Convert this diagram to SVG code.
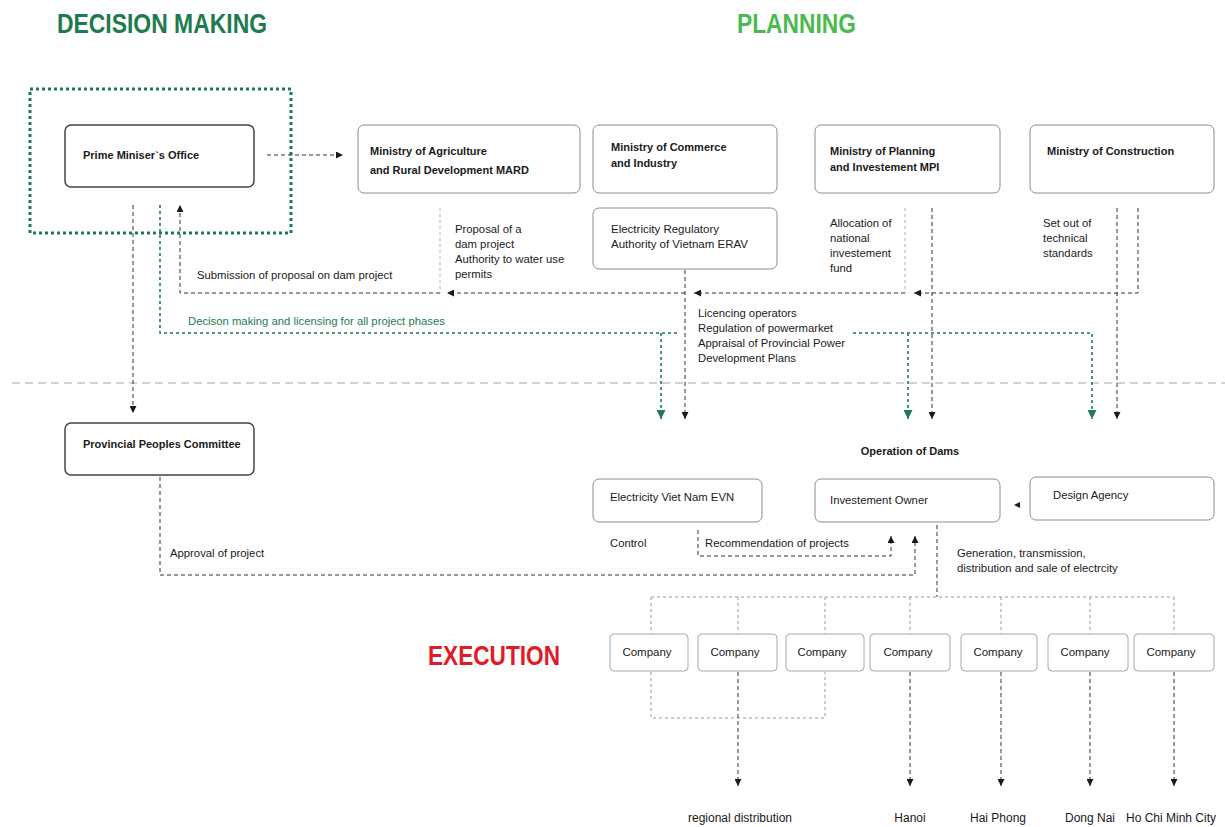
<svg xmlns="http://www.w3.org/2000/svg" width="1225" height="827" viewBox="0 0 1225 827">
  <style>
    text { font-family: "Liberation Sans", Arial, sans-serif; fill: #1a1a1a; }
    .title { font-size: 27px; font-weight: bold; }
    .node { font-size: 11px; font-weight: bold; }
    .lbl { font-size: 11.3px; }
    .co { font-size: 11.5px; text-anchor: middle; }
    .dest { font-size: 12px; text-anchor: middle; }
    .box { fill: #fff; stroke: #8c8c8c; stroke-width: 1; }
    .box.strong { stroke: #444; stroke-width: 1.5; }
    .box.light { stroke: #a8a8a8; }
    .c { fill: none; stroke: #333; stroke-width: 1; stroke-dasharray: 4 3; }
    .c.faint { stroke: #b0b0b0; stroke-dasharray: 3 3; }
    .g { fill: none; stroke: #1e7a55; stroke-width: 1.6; stroke-dasharray: 3 3; }
    .sep { fill: none; stroke: #c4c4c4; stroke-width: 1.6; stroke-dasharray: 8 5; }
  </style>
  <defs>
    <marker id="ah" viewBox="0 0 8 8" refX="8" refY="4" markerWidth="7" markerHeight="7" markerUnits="userSpaceOnUse" orient="auto">
      <path d="M0,0 L8,4 L0,8 z" fill="#1a1a1a"/>
    </marker>
    <marker id="ahg" viewBox="0 0 8 8" refX="8" refY="4" markerWidth="9" markerHeight="9" markerUnits="userSpaceOnUse" orient="auto">
      <path d="M0,0 L8,4 L0,8 z" fill="#1e7a55"/>
    </marker>
  </defs>

  <rect width="1225" height="827" fill="#fff"/>

  <!-- section headings -->
  <text class="title" x="57" y="33" style="fill:#1e7a4f" textLength="210" lengthAdjust="spacingAndGlyphs">DECISION MAKING</text>
  <text class="title" x="737" y="33" style="fill:#4cb94f" textLength="119" lengthAdjust="spacingAndGlyphs">PLANNING</text>
  <text class="title" x="428" y="665" style="fill:#e01b24" textLength="132" lengthAdjust="spacingAndGlyphs">EXECUTION</text>

  <!-- level separator -->
  <path class="sep" d="M12,383 H1225"/>

  <!-- decision-making frame -->
  <rect x="30" y="89" width="261" height="144" fill="none" stroke="#1e7a55" stroke-width="3" stroke-dasharray="3 3"/>

  <!-- connectors -->
  <g id="connectors">
    <path class="c" d="M267,155 H343" marker-end="url(#ah)"/>
    <!-- proposals flowing back to the Prime Minister -->
    <path class="c" d="M1138,208 V293 H914" marker-end="url(#ah)"/>
    <path class="c faint" d="M905,208 V293"/>
    <path class="c" d="M905,293 H694" marker-end="url(#ah)"/>
    <path class="c" d="M685,293 H447" marker-end="url(#ah)"/>
    <path class="c faint" d="M440,208 V293"/>
    <path class="c" d="M440,293 H180 V205" marker-end="url(#ah)"/>
    <!-- ministries down to operation -->
    <path class="c" d="M685,270 V419" marker-end="url(#ah)"/>
    <path class="c" d="M932,208 V419" marker-end="url(#ah)"/>
    <path class="c" d="M1117,208 V419" marker-end="url(#ah)"/>
    <!-- PMO to province -->
    <path class="c" d="M133,205 V413" marker-end="url(#ah)"/>
    <!-- decision making and licensing -->
    <path class="g" d="M160,205 V333 H677"/>
    <path class="g" d="M661,333 V419" marker-end="url(#ahg)"/>
    <path class="g" d="M853,333 H1092 V419" marker-end="url(#ahg)"/>
    <path class="g" d="M908,333 V419" marker-end="url(#ahg)"/>
    <!-- approval and recommendation -->
    <path class="c" d="M160,477 V575 H915 V536" marker-end="url(#ah)"/>
    <path class="c" d="M698,530 V556 H891 V536" marker-end="url(#ah)"/>
    <path d="M1020,502 L1014,505 L1020,508 z" fill="#1a1a1a"/>
    <!-- generation and distribution -->
    <path class="c" d="M937,525 V597"/>
    <path class="c faint" style="stroke:#999" d="M651,597 H1174 M651,597 V634 M738,597 V634 M825,597 V634 M910,597 V634 M1001,597 V634 M1090,597 V634 M1174,597 V634"/>
    <path class="c faint" style="stroke:#999" d="M651,672 V718 H825 V672"/>
    <path class="c" d="M738,672 V786" marker-end="url(#ah)"/>
    <path class="c" d="M910,672 V786" marker-end="url(#ah)"/>
    <path class="c" d="M1001,672 V786" marker-end="url(#ah)"/>
    <path class="c" d="M1090,672 V786" marker-end="url(#ah)"/>
    <path class="c" d="M1174,672 V786" marker-end="url(#ah)"/>
  </g>

  <!-- nodes -->
  <g id="pmo">
    <rect class="box strong" x="65" y="125" width="189" height="62" rx="6"/>
    <text class="node" x="83" y="159">Prime Miniser`s Office</text>
  </g>
  <g id="mard">
    <rect class="box" x="358" y="125" width="222" height="68" rx="6"/>
    <text class="node" x="370" y="155">Ministry of Agriculture</text>
    <text class="node" x="370" y="174">and Rural Development MARD</text>
  </g>
  <g id="mci">
    <rect class="box" x="593" y="125" width="184" height="68" rx="6"/>
    <text class="node" x="611" y="151">Ministry of Commerce</text>
    <text class="node" x="611" y="167">and Industry</text>
  </g>
  <g id="erav">
    <rect class="box" x="593" y="208" width="184" height="61" rx="6"/>
    <text class="node" x="611" y="233" style="font-weight:normal;font-size:11.5px">Electricity Regulatory</text>
    <text class="node" x="611" y="248" style="font-weight:normal;font-size:11.5px">Authority of Vietnam ERAV</text>
  </g>
  <g id="mpi">
    <rect class="box" x="815" y="125" width="185" height="68" rx="6"/>
    <text class="node" x="830" y="155">Ministry of Planning</text>
    <text class="node" x="830" y="171">and Investement MPI</text>
  </g>
  <g id="moc">
    <rect class="box" x="1030" y="125" width="184" height="68" rx="6"/>
    <text class="node" x="1047" y="155">Ministry of Construction</text>
  </g>
  <g id="ppc">
    <rect class="box strong" x="65" y="423" width="189" height="52" rx="6"/>
    <text class="node" x="83" y="448">Provincial Peoples Committee</text>
  </g>
  <g id="evn">
    <rect class="box" x="593" y="479" width="169" height="43" rx="6"/>
    <text class="lbl" x="610" y="501">Electricity Viet Nam EVN</text>
  </g>
  <g id="owner">
    <rect class="box" x="815" y="479" width="185" height="43" rx="6"/>
    <text class="lbl" x="830" y="504">Investement Owner</text>
  </g>
  <g id="design">
    <rect class="box" x="1030" y="477" width="184" height="43" rx="6"/>
    <text class="lbl" x="1053" y="499">Design Agency</text>
  </g>
  <g id="companies">
    <rect class="box light" x="610" y="634" width="78" height="37" rx="4"/>
    <text class="co" x="647" y="656">Company</text>
    <rect class="box light" x="698" y="634" width="79" height="37" rx="4"/>
    <text class="co" x="735" y="656">Company</text>
    <rect class="box light" x="786" y="634" width="78" height="37" rx="4"/>
    <text class="co" x="822" y="656">Company</text>
    <rect class="box light" x="870" y="634" width="80" height="37" rx="4"/>
    <text class="co" x="908" y="656">Company</text>
    <rect class="box light" x="961" y="634" width="76" height="37" rx="4"/>
    <text class="co" x="998" y="656">Company</text>
    <rect class="box light" x="1048" y="634" width="80" height="37" rx="4"/>
    <text class="co" x="1085" y="656">Company</text>
    <rect class="box light" x="1134" y="634" width="80" height="37" rx="4"/>
    <text class="co" x="1171" y="656">Company</text>
  </g>

  <!-- connector labels -->
  <g id="labels">
    <text class="lbl" x="455" y="233">Proposal of a</text>
    <text class="lbl" x="455" y="248">dam project</text>
    <text class="lbl" x="455" y="263">Authority to water use</text>
    <text class="lbl" x="455" y="278">permits</text>
    <text class="lbl" x="197" y="279">Submission of proposal on dam project</text>
    <text class="lbl" x="830" y="227">Allocation of</text>
    <text class="lbl" x="830" y="242">national</text>
    <text class="lbl" x="830" y="257">investement</text>
    <text class="lbl" x="830" y="272">fund</text>
    <text class="lbl" x="1043" y="227">Set out of</text>
    <text class="lbl" x="1043" y="242">technical</text>
    <text class="lbl" x="1043" y="257">standards</text>
    <text class="lbl" x="188" y="325" style="fill:#1e7a55">Decison making and licensing for all project phases</text>
    <text class="lbl" x="698" y="317">Licencing operators</text>
    <text class="lbl" x="698" y="332">Regulation of powermarket</text>
    <text class="lbl" x="698" y="347">Appraisal of Provincial Power</text>
    <text class="lbl" x="698" y="362">Development Plans</text>
    <text class="node" x="910" y="455" text-anchor="middle">Operation of Dams</text>
    <text class="lbl" x="170" y="557">Approval of project</text>
    <text class="lbl" x="610" y="547">Control</text>
    <text class="lbl" x="705" y="547">Recommendation of projects</text>
    <text class="lbl" x="957" y="557">Generation, transmission,</text>
    <text class="lbl" x="957" y="572">distribution and sale of electrcity</text>
    <text class="dest" x="740" y="822">regional distribution</text>
    <text class="dest" x="910" y="822">Hanoi</text>
    <text class="dest" x="998" y="822">Hai Phong</text>
    <text class="dest" x="1090" y="822">Dong Nai</text>
    <text class="dest" x="1171" y="822">Ho Chi Minh City</text>
  </g>
</svg>
